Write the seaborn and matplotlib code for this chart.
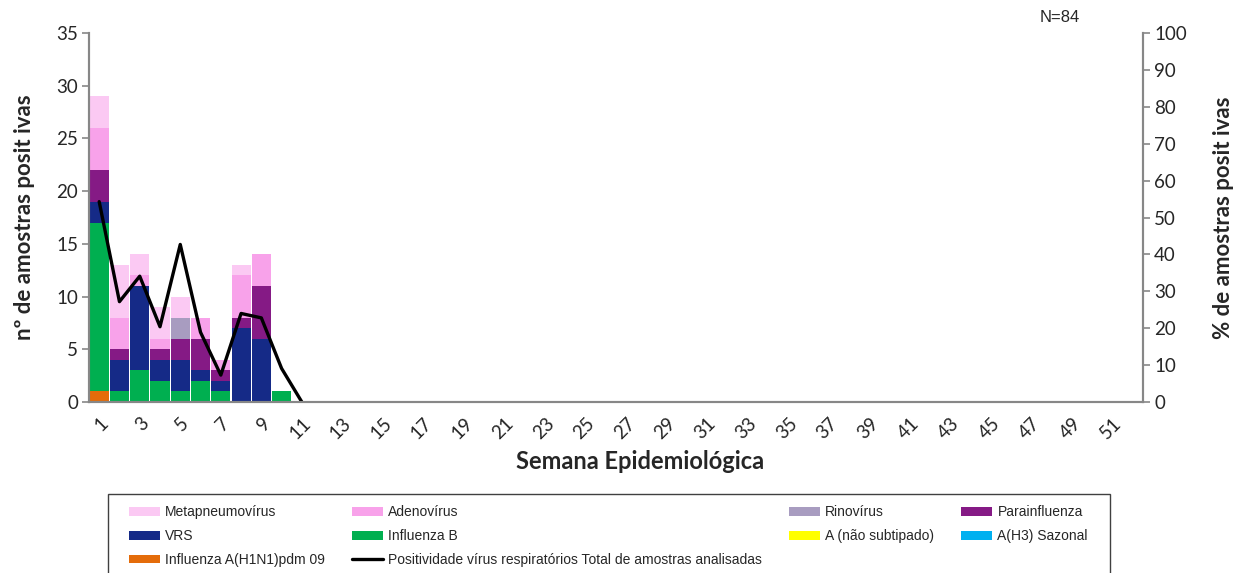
import numpy as np
import pandas as pd
import matplotlib
matplotlib.use('Agg')
import matplotlib.pyplot as plt
import seaborn as sns
from matplotlib.patches import Patch, Rectangle
from matplotlib.lines import Line2D

# Weekly counts of positive samples (weeks 1-10, the rest of the year is empty)
weeks = list(range(1, 53))
h1n1 = [1, 0, 0, 0, 0, 0, 0, 0, 0, 0]
a_h3 = [0, 0, 0, 0, 0, 0, 0, 0, 0, 0]
a_nao_sub = [0, 0, 0, 0, 0, 0, 0, 0, 0, 0]
flu_b = [16, 1, 3, 2, 1, 2, 1, 0, 0, 1]
vrs = [2, 3, 8, 2, 3, 1, 1, 7, 6, 0]
parainf = [3, 1, 0, 1, 2, 3, 1, 1, 5, 0]
rino = [0, 0, 0, 0, 2, 0, 0, 0, 0, 0]
adeno = [4, 3, 1, 1, 0, 2, 1, 4, 3, 0]
metapneumo = [3, 5, 2, 3, 2, 0, 0, 1, 0, 0]

# % positivity (right axis), weeks 1-11
line_weeks = list(range(1, 12))
positividade = [54.3, 27.2, 34.1, 20.4, 42.7, 18.9, 7.3, 24.0, 22.8, 9.1, 0.0]

labels = ['Influenza A(H1N1)pdm 09', 'A(H3) Sazonal', 'A (não subtipado)', 'Influenza B',
          'VRS', 'Parainfluenza', 'Rinovírus', 'Adenovírus', 'Metapneumovírus']
series = [h1n1, a_h3, a_nao_sub, flu_b, vrs, parainf, rino, adeno, metapneumo]
colors = ['#E46C0A', '#00B0F0', '#FFFF00', '#00AF50', '#152A87', '#851A85',
          '#A89CC0', '#F8A2EA', '#FBC9F3']
line_label = 'Positividade vírus respiratórios Total de amostras analisadas'

df = pd.DataFrame({'week': weeks})
for lab, vals in zip(labels, series):
    df[lab] = vals + [0] * (len(weeks) - len(vals))

sns.set_style('white')
plt.rcParams['font.family'] = ['Lato', 'DejaVu Sans']

fig = plt.figure(figsize=(12.42, 5.73), dpi=100)
ax = fig.add_axes([0.0717, 0.2984, 0.8486, 0.644])

bottom = np.zeros(len(weeks))
for lab, col in zip(labels, colors):
    sns.barplot(data=df, x='week', y=lab, bottom=bottom, color=col, saturation=1,
                native_scale=True, width=0.94, linewidth=0, errorbar=None, ax=ax)
    bottom = bottom + df[lab].values

ax2 = ax.twinx()
sns.lineplot(x=line_weeks, y=positividade, ax=ax2, color='black', linewidth=2.4)

gray = '#878787'
ax.set_xlim(0.5, 52.5)
ax.set_ylim(0, 35)
ax.set_yticks(range(0, 36, 5))
ax2.set_ylim(0, 100)
ax2.set_yticks(range(0, 101, 10))

ax.set_xticks(weeks[::2])
ax.set_xticklabels([str(w) for w in weeks[::2]], rotation=45, ha='right',
                   rotation_mode='anchor', fontsize=13.5)
ax.set_xticks(np.arange(0.5, 53, 1), minor=True)
ax.tick_params(axis='x', which='major', length=0, pad=9)
ax.tick_params(axis='x', which='minor', length=5, width=1.2, color='#BDBDBD')
ax.tick_params(axis='y', length=5, width=1.2, color=gray, labelsize=13.5, pad=3)
ax2.tick_params(axis='y', length=5, width=1.2, color=gray, labelsize=13.5, pad=3)

for a in (ax, ax2):
    a.spines['top'].set_visible(False)
    for s in ('left', 'right', 'bottom'):
        a.spines[s].set_color(gray)
        a.spines[s].set_linewidth(1.5)
    a.grid(False)

ax.set_xlabel('Semana Epidemiológica', fontsize=17, fontweight='bold', labelpad=6, x=0.523)
ax.set_ylabel('nº de amostras posit ivas', fontsize=16, fontweight='bold', labelpad=15)
ax2.set_ylabel('% de amostras posit ivas', fontsize=16, fontweight='bold', labelpad=19)

fig.text(0.837, 0.962, 'N=84', fontsize=12, family='Liberation Sans')

# legend, filled column by column; box drawn separately (runs off the bottom edge)
handles = {lab: Patch(facecolor=col, edgecolor='none') for lab, col in zip(labels, colors)}
handles[line_label] = Line2D([], [], color='black', linewidth=2.4)
order = ['Metapneumovírus', 'VRS', 'Influenza A(H1N1)pdm 09',
         'Adenovírus', 'Influenza B', line_label,
         'Rinovírus', 'A (não subtipado)',
         'Parainfluenza', 'A(H3) Sazonal']
fig.legend([handles[o] for o in order], order, ncol=4, loc='upper left',
           bbox_to_anchor=(0.1039, 0.118), borderaxespad=0, frameon=False,
           prop={'family': 'Liberation Sans', 'size': 10},
           handlelength=2.2, handleheight=0.6, handletextpad=0.4,
           columnspacing=1.95, labelspacing=0.7, borderpad=0)
fig.patches.append(Rectangle((0.087, -0.02), 0.8068, 0.158, transform=fig.transFigure,
                             facecolor='none', edgecolor='#404040', linewidth=1.0))

fig.savefig('out.png', dpi=100)
